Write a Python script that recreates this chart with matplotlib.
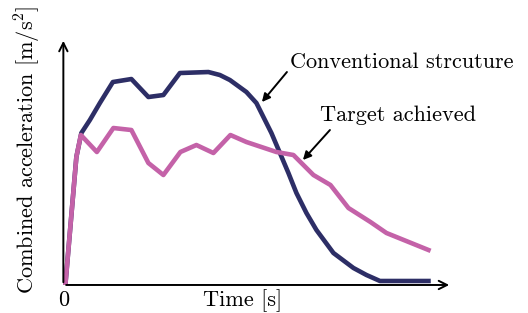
import matplotlib.pyplot as plt

plt.rcParams['font.family'] = ['cmr10', 'DejaVu Serif']
plt.rcParams['mathtext.fontset'] = 'cm'
plt.rcParams['axes.unicode_minus'] = False

# values (arbitrary units)
t_conv = [0.2, 1.3, 1.8, 2.65, 3.65, 4.95, 6.8, 8.5, 10.0, 11.65, 14.5, 15.65,
          16.65, 18.3, 19.3, 20.0, 20.8, 21.65, 22.5, 23.3, 24.3, 25.3, 27.0,
          29.0, 30.3, 31.65, 36.5]
a_conv = [0.0, 12.8, 15.2, 16.5, 18.2, 20.3, 20.6, 18.8, 19.0, 21.2, 21.3, 21.0,
          20.5, 19.3, 18.2, 16.8, 15.2, 13.2, 11.2, 9.2, 7.2, 5.5, 3.2,
          1.7, 1.0, 0.4, 0.4]

t_target = [0.2, 1.3, 1.75, 3.35, 5.0, 6.8, 8.5, 10.0, 11.7, 13.3, 15.0, 16.7,
            18.3, 21.3, 23.0, 25.0, 26.7, 28.5, 30.7, 32.3, 36.5]
a_target = [0.0, 12.8, 15.0, 13.3, 15.7, 15.5, 12.2, 11.0, 13.3, 14.0, 13.2, 15.0,
            14.3, 13.3, 13.0, 11.0, 10.0, 7.7, 6.3, 5.2, 3.5]

fig = plt.figure(figsize=(5.28, 3.13), dpi=100)
ax = fig.add_axes([0.120, 0.0895, 0.736, 0.789])
ax.set_xlim(0, 38.85)
ax.set_ylim(0, 24.7)

ax.plot(t_conv, a_conv, color='#2d2e66', lw=3.3, solid_joinstyle='round')
ax.plot(t_target, a_target, color='#c462a8', lw=3.3, solid_joinstyle='round')

# axes drawn as arrows
for s in ax.spines.values():
    s.set_visible(False)
ax.set_xticks([])
ax.set_yticks([])
arrow = dict(arrowstyle='->', color='black', lw=1.4, mutation_scale=15)
ax.annotate('', xy=(1.0, 0), xytext=(0, 0), xycoords='axes fraction', arrowprops=arrow)
ax.annotate('', xy=(0, 1.0), xytext=(0, 0), xycoords='axes fraction', arrowprops=arrow)

ax.text(0, -0.062, '0', transform=ax.transAxes, ha='center', va='center', fontsize=16)
ax.text(0.46, -0.062, 'Time [s]', transform=ax.transAxes, ha='center', va='center', fontsize=16)
fig.text(0.053, 0.52, r'Combined acceleration [m/s$^2$]', rotation=90,
         ha='center', va='center', fontsize=16)

pointer = dict(arrowstyle='-|>', color='black', lw=1.4, mutation_scale=12,
               shrinkA=0, shrinkB=0)
ax.text(22.65, 22.3, 'Conventional strcuture', ha='left', va='center', fontsize=16)
ax.annotate('', xy=(19.85, 18.3), xytext=(22.35, 21.3), arrowprops=pointer)
ax.text(25.65, 17.0, 'Target achieved', ha='left', va='center', fontsize=16)
ax.annotate('', xy=(23.95, 12.5), xytext=(26.65, 15.5), arrowprops=pointer)

plt.savefig('out.png', dpi=100)
